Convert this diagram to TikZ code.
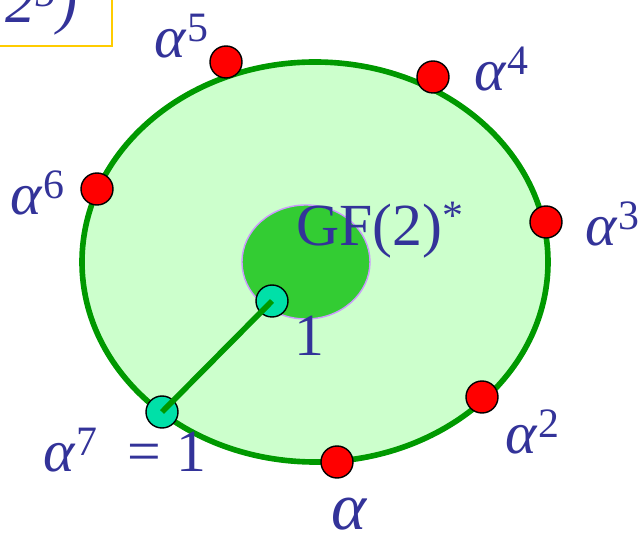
\documentclass[tikz,border=0pt]{standalone}
\usepackage{fontspec}
\setmainfont{Liberation Serif}
\usetikzlibrary{positioning}

\definecolor{ringgreen}{HTML}{009900}
\definecolor{ringfill}{HTML}{CCFFCC}
\definecolor{coregreen}{HTML}{33CC33}
\definecolor{corerim}{HTML}{CC99FF}
\definecolor{labelblue}{HTML}{333399}
\definecolor{unitcyan}{HTML}{00E0A8}
\definecolor{keyyellow}{HTML}{FFCC00}

\newcommand{\al}[1]{\textit{α}\textsuperscript{#1}}

\begin{document}
\begin{tikzpicture}[
    elem/.style={circle, draw=black, line width=0.8pt, minimum size=0.64cm, inner sep=0pt},
    power/.style={elem, fill=red},
    unit/.style={elem, fill=unitcyan},
    lbl/.style={text=labelblue, font=\fontsize{34}{40}\selectfont, inner sep=0pt},
    keybox/.style={draw=keyyellow, line width=1pt, text=labelblue, font=\fontsize{34}{40}\selectfont\itshape}
]
    \useasboundingbox (0,0) rectangle (12.78,-10.72);
    \clip (0,0) rectangle (12.78,-10.72);

    % --- FIELD GF(2^5)* AND SUBFIELD ---
    \draw[ringgreen, fill=ringfill, line width=3.2pt] (6.3,-5.24) ellipse [x radius=4.66cm, y radius=4cm];
    \draw[corerim, fill=coregreen, line width=0.8pt] (6.12,-5.24) ellipse [x radius=1.28cm, y radius=1.14cm];

    % title box, cut by the frame
    \node[keybox, anchor=south east, inner xsep=20pt, inner ysep=6pt] (title) at (2.26,-0.94) {GF(2\textsuperscript{5})};

    % --- POWERS OF ALPHA ON THE RING ---
    \node[power] (a5) at (4.52,-1.24) {};
    \node[power] (a4) at (8.66,-1.54) {};
    \node[power] (a3) at (10.92,-4.44) {};
    \node[power] (a2) at (9.64,-7.94) {};
    \node[power] (a1) at (6.74,-9.24) {};
    \node[power] (a6) at (1.94,-3.78) {};

    % the two copies of 1
    \node[unit] (one) at (5.44,-6.02) {};
    \node[unit] (a7) at (3.24,-8.24) {};
    \draw[ringgreen, line width=3.2pt] (one.center) -- (a7.center);

    % --- LABELS ---
    \node[lbl] (l5) at (3.64,-0.72) {\al{5}};
    \node[lbl] (l4) at (10.04,-1.38) {\al{4}};
    \node[lbl] (l3) at (12.26,-4.48) {\al{3}};
    \node[lbl] (l2) at (10.66,-8.64) {\al{2}};
    \node[lbl, font=\fontsize{38}{44}\selectfont, text height=0.5cm, text depth=0pt, anchor=base] (l1) at (7.0,-10.6) {\textit{α}};
    \node[lbl] (l6) at (0.76,-3.86) {\al{6}};
    \node[lbl] (l7) at (2.5,-9.0) {\al{7}\hspace{0.6cm}= 1};
    \node[lbl] (lone) at (6.18,-6.72) {1};
    \node[lbl] (gf) at (7.6,-4.6) {GF(2)\textsuperscript{*}};

\end{tikzpicture}
\end{document}
